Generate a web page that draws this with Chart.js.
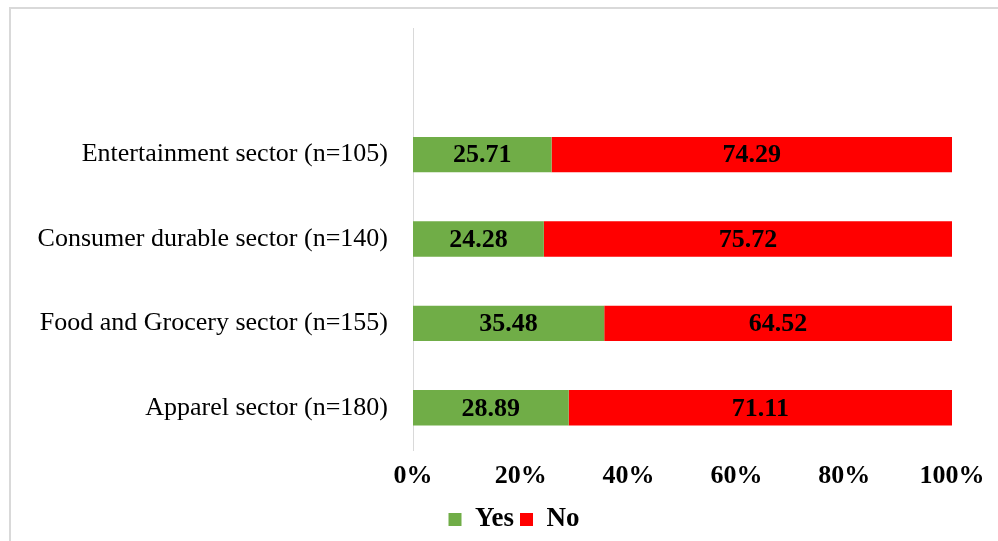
<!DOCTYPE html>
<html>
<head>
<meta charset="utf-8">
<script src="https://cdn.jsdelivr.net/npm/chart.js@4.4.0/dist/chart.umd.min.js"></script>
<style>
  html, body { margin: 0; padding: 0; background: #fff; }
  #wrap { position: relative; width: 998px; height: 541px; overflow: hidden; }
  #frame { position: absolute; left: 9px; top: 7px; width: 1000px; height: 600px;
           border-left: 2px solid #d9d9d9; border-top: 2px solid #d9d9d9; }
  canvas { position: absolute; left: 0; top: 0; }
</style>
</head>
<body>
<div id="wrap">
  <div id="frame"></div>
  <canvas id="c" width="998" height="541"></canvas>
</div>
<script>
const categories = ["", "Entertainment sector (n=105)", "Consumer durable sector (n=140)", "Food and Grocery sector (n=155)", "Apparel sector (n=180)"];
const yesValues = [null, 25.71, 24.28, 35.48, 28.89];
const noValues = [null, 74.29, 75.72, 64.52, 71.11];
const xTicks = ["0%", "20%", "40%", "60%", "80%", "100%"];

const SERIF = "'Liberation Serif', 'Times New Roman', serif";

const valueLabels = {
  id: 'valueLabels',
  afterDatasetsDraw(chart) {
    const ctx = chart.ctx;
    ctx.save();
    ctx.font = "bold 26px " + SERIF;
    ctx.fillStyle = "#000";
    ctx.textAlign = "center";
    ctx.textBaseline = "middle";
    chart.data.datasets.forEach((ds, di) => {
      const meta = chart.getDatasetMeta(di);
      meta.data.forEach((el, i) => {
        const v = ds.data[i];
        if (v === null || v === undefined) return;
        const cx = (el.x + el.base) / 2;
        ctx.fillText(v.toFixed(2), cx, el.y + 1);
      });
    });
    ctx.restore();
  }
};

const legendShift = {
  id: 'legendShift',
  afterLayout(chart) {
    if (chart.legend) {
      chart.legend.left += 38; chart.legend.right += 38;
      chart.legend.top += 2; chart.legend.bottom += 2;
    }
  }
};

new Chart(document.getElementById('c'), {
  type: 'bar',
  data: {
    labels: categories,
    datasets: [
      { label: 'Yes', data: yesValues, backgroundColor: '#70AD47', barPercentage: 0.42, categoryPercentage: 1 },
      { label: 'No', data: noValues, backgroundColor: '#FF0000', barPercentage: 0.42, categoryPercentage: 1 }
    ]
  },
  options: {
    indexAxis: 'y',
    responsive: false,
    animation: false,
    layout: { padding: { left: 0, right: 46, top: 28, bottom: 0 } },
    scales: {
      x: {
        stacked: true,
        min: 0, max: 100,
        ticks: {
          stepSize: 20,
          callback: (v, i) => xTicks[i],
          color: '#000',
          font: { family: SERIF, size: 26, weight: 'bold' },
          padding: 3
        },
        grid: { display: false },
        border: { display: false },
        afterFit: s => { s.height = 48; }
      },
      y: {
        stacked: true,
        ticks: {
          color: '#000',
          font: { family: SERIF, size: 26 },
          padding: 17
        },
        grid: { display: false },
        border: { display: true, color: '#d9d9d9', width: 1 },
        afterFit: s => { s.width = 413; s.paddingTop = 0; s.paddingBottom = 0; }
      }
    },
    plugins: {
      legend: {
        position: 'bottom',
        labels: {
          color: '#000',
          boxWidth: 13, boxHeight: 13,
          font: { family: SERIF, size: 27, weight: 'bold' },
          padding: 6
        }
      },
      tooltip: { enabled: false }
    }
  },
  plugins: [valueLabels, legendShift]
});
</script>
</body>
</html>
